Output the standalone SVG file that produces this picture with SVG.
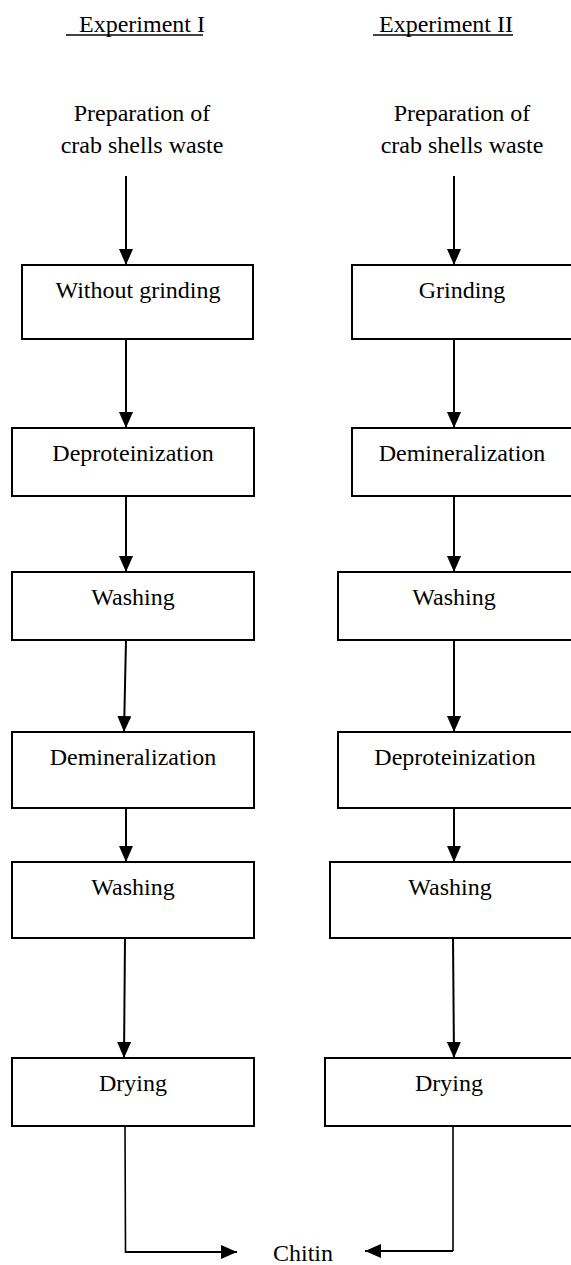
<svg xmlns="http://www.w3.org/2000/svg" width="571" height="1265" viewBox="0 0 571 1265">
<style>
text{font-family:"Liberation Serif","Times New Roman",serif;font-size:24px;fill:#000}
.c{text-anchor:middle}
.box{fill:#fff;stroke:#000;stroke-width:2}
.ln{fill:none;stroke:#000;stroke-width:2}
.thin{fill:none;stroke:#000;stroke-width:1.6}
.ul{stroke:#000;stroke-width:1.3}
</style>
<defs>
<marker id="ah" markerUnits="userSpaceOnUse" markerWidth="16" markerHeight="14" refX="16" refY="7" orient="auto" viewBox="0 0 16 14">
<path d="M0,0 L16,7 L0,14 z" fill="#000"/>
</marker>
</defs>
<rect width="571" height="1265" fill="#fff"/>
<g id="title1">
<text x="79" y="32">Experiment I</text>
<line class="ul" x1="66" y1="35" x2="203" y2="35"/>
</g>
<g id="title2">
<text x="379" y="32">Experiment II</text>
<line class="ul" x1="373" y1="35" x2="513" y2="35"/>
</g>
<g id="prep1">
<text class="c" x="142" y="121">Preparation of</text>
<text class="c" x="142" y="153">crab shells waste</text>
</g>
<g id="prep2">
<text class="c" x="462" y="121">Preparation of</text>
<text class="c" x="462" y="153">crab shells waste</text>
</g>
<g id="l1"><rect class="box" x="22" y="265" width="231" height="74"/><text class="c" x="138" y="298">Without grinding</text></g>
<g id="l2"><rect class="box" x="12" y="428" width="242" height="68"/><text class="c" x="133" y="461">Deproteinization</text></g>
<g id="l3"><rect class="box" x="12" y="572" width="242" height="68"/><text class="c" x="133" y="605">Washing</text></g>
<g id="l4"><rect class="box" x="12" y="732" width="242" height="76"/><text class="c" x="133" y="765">Demineralization</text></g>
<g id="l5"><rect class="box" x="12" y="862" width="242" height="76"/><text class="c" x="133" y="895">Washing</text></g>
<g id="l6"><rect class="box" x="12" y="1058" width="242" height="68"/><text class="c" x="133" y="1091">Drying</text></g>
<g id="r1"><rect class="box" x="352" y="265" width="224" height="74"/><text class="c" x="462" y="298">Grinding</text></g>
<g id="r2"><rect class="box" x="352" y="428" width="224" height="68"/><text class="c" x="462" y="461">Demineralization</text></g>
<g id="r3"><rect class="box" x="338" y="572" width="238" height="68"/><text class="c" x="454" y="605">Washing</text></g>
<g id="r4"><rect class="box" x="338" y="732" width="238" height="76"/><text class="c" x="455" y="765">Deproteinization</text></g>
<g id="r5"><rect class="box" x="330" y="862" width="246" height="76"/><text class="c" x="450" y="895">Washing</text></g>
<g id="r6"><rect class="box" x="325" y="1058" width="251" height="68"/><text class="c" x="449" y="1091">Drying</text></g>
<g id="chitin"><text x="273" y="1261">Chitin</text></g>
<g id="connectors">
<line class="ln" x1="126" y1="176" x2="126" y2="265" marker-end="url(#ah)"/>
<line class="ln" x1="126" y1="339" x2="126" y2="428" marker-end="url(#ah)"/>
<line class="ln" x1="126" y1="496" x2="126" y2="572" marker-end="url(#ah)"/>
<line class="ln" x1="126" y1="640" x2="124" y2="732" marker-end="url(#ah)"/>
<line class="ln" x1="126" y1="808" x2="126" y2="862" marker-end="url(#ah)"/>
<line class="ln" x1="125" y1="938" x2="124" y2="1058" marker-end="url(#ah)"/>
<line class="ln" x1="454" y1="176" x2="454" y2="265" marker-end="url(#ah)"/>
<line class="ln" x1="454" y1="339" x2="454" y2="428" marker-end="url(#ah)"/>
<line class="ln" x1="454" y1="496" x2="454" y2="572" marker-end="url(#ah)"/>
<line class="ln" x1="454" y1="640" x2="454" y2="732" marker-end="url(#ah)"/>
<line class="ln" x1="454" y1="808" x2="454" y2="862" marker-end="url(#ah)"/>
<line class="ln" x1="453" y1="938" x2="454" y2="1058" marker-end="url(#ah)"/>
<polyline class="thin" points="125,1126 125.5,1252 126,1252"/>
<line class="ln" x1="125" y1="1252" x2="237" y2="1252" marker-end="url(#ah)"/>
<polyline class="thin" points="453,1126 453,1251"/>
<line class="ln" x1="453" y1="1251" x2="365" y2="1251" marker-end="url(#ah)"/>
</g>
</svg>
